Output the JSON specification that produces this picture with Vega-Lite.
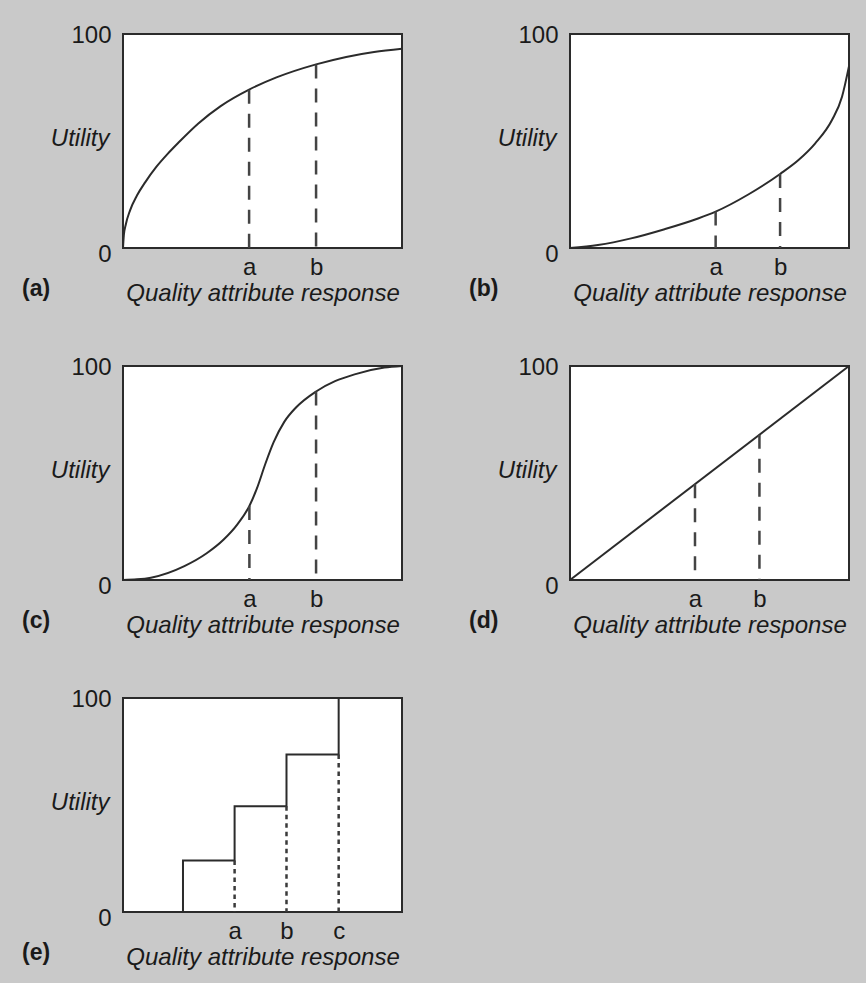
{
  "$schema": "https://vega.github.io/schema/vega-lite/v6.json",
  "background": "#c9c9c9",
  "padding": {"left": 21, "top": 22, "right": 17, "bottom": 18},
  "columns": 2,
  "bounds": "flush",
  "spacing": {"row": 118, "column": 168},
  "datasets": {
    "curveA": [
      {"x": 0, "y": 0}, {"x": 0.3, "y": 6}, {"x": 1, "y": 11}, {"x": 2.5, "y": 17.5},
      {"x": 5, "y": 24.5}, {"x": 8, "y": 30.8}, {"x": 12, "y": 38}, {"x": 16, "y": 44},
      {"x": 20, "y": 49.4}, {"x": 27, "y": 58.2}, {"x": 35, "y": 66.3}, {"x": 45.2, "y": 74}, {"x": 55, "y": 79.7},
      {"x": 69.2, "y": 85.8}, {"x": 80, "y": 89.3}, {"x": 90, "y": 91.6}, {"x": 100, "y": 93.1}
    ],
    "dashA": [{"x": 45.2, "y": 74}, {"x": 69.2, "y": 85.8}],
    "curveB": [
      {"x": 0, "y": 0}, {"x": 10, "y": 1.4}, {"x": 21.9, "y": 4.5}, {"x": 33.9, "y": 8.8},
      {"x": 45.9, "y": 13.8}, {"x": 52.2, "y": 17}, {"x": 63.9, "y": 25}, {"x": 75.3, "y": 34.6},
      {"x": 81.9, "y": 41.1}, {"x": 87.9, "y": 48.9}, {"x": 93.9, "y": 59.8}, {"x": 97.5, "y": 70.7},
      {"x": 100, "y": 85}
    ],
    "dashB": [{"x": 52.2, "y": 17}, {"x": 75.3, "y": 34.6}],
    "curveC": [
      {"x": 0, "y": 0}, {"x": 5, "y": 0.3}, {"x": 10, "y": 1.1}, {"x": 22, "y": 6.5},
      {"x": 30, "y": 12.5}, {"x": 36, "y": 18.8}, {"x": 41, "y": 26}, {"x": 45.3, "y": 34.6},
      {"x": 48, "y": 42.8}, {"x": 51, "y": 54.2}, {"x": 54, "y": 64.4}, {"x": 57.8, "y": 73.9},
      {"x": 62, "y": 80.6}, {"x": 69.2, "y": 88.1}, {"x": 76, "y": 92.9}, {"x": 83, "y": 96.1},
      {"x": 93.7, "y": 99.25}, {"x": 100, "y": 100}
    ],
    "dashC": [{"x": 45.3, "y": 34.6}, {"x": 69.2, "y": 88.1}],
    "curveD": [{"x": 0, "y": 0}, {"x": 100, "y": 100}],
    "dashD": [{"x": 44.8, "y": 44.8}, {"x": 67.9, "y": 67.9}],
    "curveE": [
      {"x": 21.5, "y": 0}, {"x": 21.5, "y": 24.1}, {"x": 40, "y": 24.1}, {"x": 40, "y": 49.4},
      {"x": 58.6, "y": 49.4}, {"x": 58.6, "y": 73.6}, {"x": 77.3, "y": 73.6}, {"x": 77.3, "y": 100}
    ],
    "dashE": [{"x": 40, "y": 24.1}, {"x": 58.6, "y": 49.4}, {"x": 77.3, "y": 73.6}]
  },
  "concat": [
    {
      "width": 279, "height": 214,
      "title": "(a)",
      "encoding": {
        "x": {"field": "x", "type": "quantitative", "scale": {"domain": [0, 100], "nice": false},
              "axis": {"values": [45.2, 69.2], "labelExpr": "datum.value < 50 ? 'a' : 'b'", "title": "Quality attribute response"}},
        "y": {"field": "y", "type": "quantitative", "scale": {"domain": [0, 100], "nice": false},
              "axis": {"values": [0, 100], "title": "Utility"}}
      },
      "layer": [
        {"data": {"name": "curveA"}, "mark": {"type": "line", "interpolate": "monotone", "stroke": "#2b2b2b", "strokeWidth": 2}},
        {"data": {"name": "dashA"}, "mark": {"type": "rule", "stroke": "#444444", "strokeWidth": 2.5, "strokeDash": [14, 10]}, "encoding": {"y2": {"datum": 0}}}
      ]
    },
    {
      "width": 279, "height": 214,
      "title": "(b)",
      "encoding": {
        "x": {"field": "x", "type": "quantitative", "scale": {"domain": [0, 100], "nice": false},
              "axis": {"values": [52.2, 75.3], "labelExpr": "datum.value < 60 ? 'a' : 'b'", "title": "Quality attribute response"}},
        "y": {"field": "y", "type": "quantitative", "scale": {"domain": [0, 100], "nice": false},
              "axis": {"values": [0, 100], "title": "Utility"}}
      },
      "layer": [
        {"data": {"name": "curveB"}, "mark": {"type": "line", "interpolate": "monotone", "stroke": "#2b2b2b", "strokeWidth": 2}},
        {"data": {"name": "dashB"}, "mark": {"type": "rule", "stroke": "#444444", "strokeWidth": 2.5, "strokeDash": [14, 10]}, "encoding": {"y2": {"datum": 0}}}
      ]
    },
    {
      "width": 279, "height": 214,
      "title": "(c)",
      "encoding": {
        "x": {"field": "x", "type": "quantitative", "scale": {"domain": [0, 100], "nice": false},
              "axis": {"values": [45.3, 69.2], "labelExpr": "datum.value < 50 ? 'a' : 'b'", "title": "Quality attribute response"}},
        "y": {"field": "y", "type": "quantitative", "scale": {"domain": [0, 100], "nice": false},
              "axis": {"values": [0, 100], "title": "Utility"}}
      },
      "layer": [
        {"data": {"name": "curveC"}, "mark": {"type": "line", "interpolate": "monotone", "stroke": "#2b2b2b", "strokeWidth": 2}},
        {"data": {"name": "dashC"}, "mark": {"type": "rule", "stroke": "#444444", "strokeWidth": 2.5, "strokeDash": [14, 10]}, "encoding": {"y2": {"datum": 0}}}
      ]
    },
    {
      "width": 279, "height": 214,
      "title": "(d)",
      "encoding": {
        "x": {"field": "x", "type": "quantitative", "scale": {"domain": [0, 100], "nice": false},
              "axis": {"values": [44.8, 67.9], "labelExpr": "datum.value < 50 ? 'a' : 'b'", "title": "Quality attribute response"}},
        "y": {"field": "y", "type": "quantitative", "scale": {"domain": [0, 100], "nice": false},
              "axis": {"values": [0, 100], "title": "Utility"}}
      },
      "layer": [
        {"data": {"name": "curveD"}, "mark": {"type": "line", "stroke": "#2b2b2b", "strokeWidth": 2}},
        {"data": {"name": "dashD"}, "mark": {"type": "rule", "stroke": "#444444", "strokeWidth": 2.5, "strokeDash": [14, 10]}, "encoding": {"y2": {"datum": 0}}}
      ]
    },
    {
      "width": 279, "height": 214,
      "title": "(e)",
      "encoding": {
        "x": {"field": "x", "type": "quantitative", "scale": {"domain": [0, 100], "nice": false},
              "axis": {"values": [40, 58.6, 77.3], "labelExpr": "datum.value < 50 ? 'a' : datum.value < 70 ? 'b' : 'c'", "title": "Quality attribute response"}},
        "y": {"field": "y", "type": "quantitative", "scale": {"domain": [0, 100], "nice": false},
              "axis": {"values": [0, 100], "title": "Utility"}}
      },
      "layer": [
        {"data": {"name": "curveE"}, "mark": {"type": "line", "stroke": "#2b2b2b", "strokeWidth": 2}},
        {"data": {"name": "dashE"}, "mark": {"type": "rule", "stroke": "#3a3a3a", "strokeWidth": 2.5, "strokeDash": [4.5, 4]}, "encoding": {"y2": {"datum": 0}}}
      ]
    }
  ],
  "config": {
    "view": {"stroke": "#2b2b2b", "strokeWidth": 2, "fill": "white"},
    "axis": {
      "ticks": false, "domain": false, "grid": false,
      "labelFont": "Liberation Sans", "labelFontSize": 24, "labelColor": "#1a1a1a",
      "titleFont": "Liberation Sans", "titleFontSize": 24, "titleFontStyle": "italic", "titleFontWeight": "normal", "titleColor": "#1a1a1a"
    },
    "axisX": {"labelPadding": 7, "titlePadding": 2, "labelFlush": false},
    "axisY": {
      "labelPadding": 12, "labelFlush": false,
      "labelOffset": {"condition": {"test": "datum.value == 0", "value": 6}, "value": 1},
      "titleAngle": 0, "titleAlign": "right", "titleBaseline": "middle", "titleX": -14, "titleY": 104
    },
    "title": {
      "font": "Liberation Sans", "fontSize": 23, "fontWeight": "bold", "color": "#1a1a1a",
      "orient": "bottom", "anchor": "start", "frame": "group", "dx": -101, "offset": -27
    }
  }
}
